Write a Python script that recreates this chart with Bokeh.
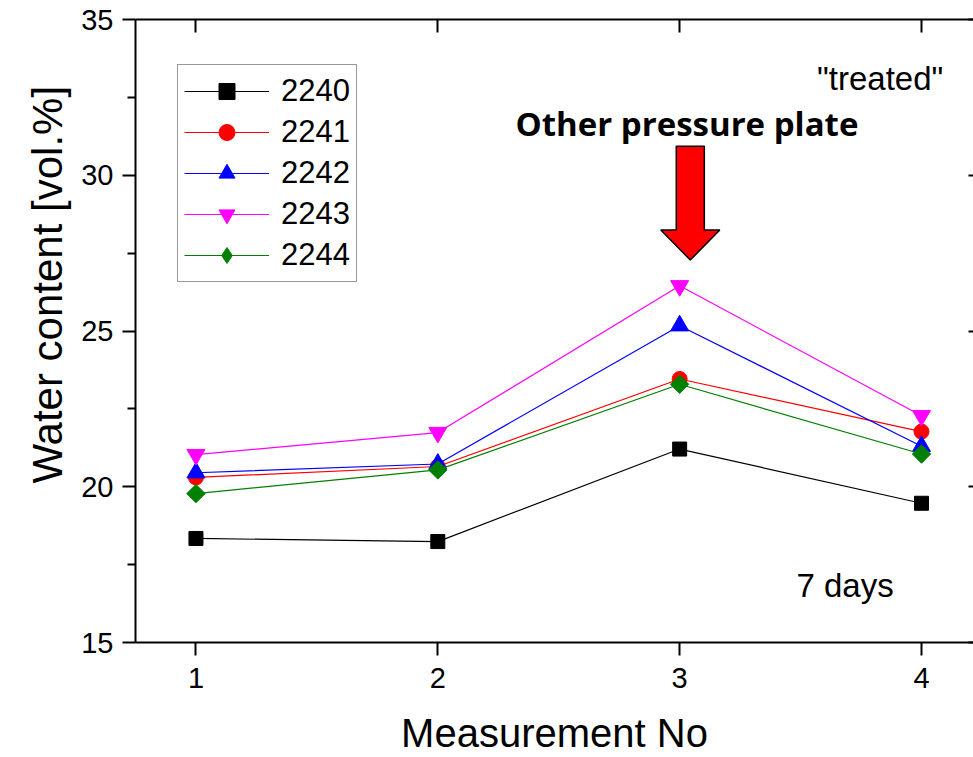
import numpy as np
from bokeh.plotting import figure
from bokeh.models import FixedTicker, LinearAxis, Label, Legend, LegendItem, Title
from bokeh.embed import file_html
from bokeh.resources import INLINE

# ---- data ----
measurement = [1, 2, 3, 4]
s2240 = [18.34, 18.24, 21.21, 19.47]
s2241 = [20.30, 20.65, 23.46, 21.77]
s2242 = [20.45, 20.73, 25.17, 21.30]
s2243 = [21.03, 21.74, 26.45, 22.28]
s2244 = [19.78, 20.54, 23.29, 21.05]
series_names = ["2240", "2241", "2242", "2243", "2244"]
series_values = [s2240, s2241, s2242, s2243, s2244]
x_ticks = [1, 2, 3, 4]
y_ticks = [15, 20, 25, 30, 35]
y_minor = [17.5, 22.5, 27.5, 32.5]

colors = ["#000000", "#FF0000", "#0000FF", "#FF00FF", "#008000"]
markers = ["square", "circle", "triangle", "inverted_triangle", "square"]
legend_markers = ["square", "circle", "triangle", "inverted_triangle", "diamond"]
sizes = [14, 15, 18, 18, 13]
angles = [0, 0, 0, 0, np.pi / 4]

FONT = "Liberation Sans"

p = figure(width=973, height=757, x_range=(0.75, 4.215), y_range=(15, 35),
           output_backend="svg", toolbar_location=None,
           min_border_left=135, min_border_right=0, min_border_top=19, min_border_bottom=115)
p.outline_line_color = None
p.xgrid.visible = False
p.ygrid.visible = False
p.background_fill_color = "white"
p.border_fill_color = "white"

# left axis
ya = p.yaxis[0]
ya.ticker = FixedTicker(ticks=y_ticks, minor_ticks=y_minor)
ya.major_label_text_font = FONT
ya.major_label_text_font_size = "29px"
ya.major_label_text_color = "black"
ya.major_label_standoff = 9
ya.major_tick_out = 13
ya.major_tick_in = 0
ya.minor_tick_out = 8
ya.minor_tick_in = 0
ya.axis_line_width = 2
ya.major_tick_line_width = 2
ya.minor_tick_line_width = 2

# y axis title (off-centre towards the top, as in the reference)
ytitle = Title(text="Water content [vol.%]", align="left", offset=159,
               text_font=FONT, text_font_style="normal", text_font_size="42px",
               text_color="black", standoff=16)
p.add_layout(ytitle, "left")

# bottom axis
xa = p.xaxis[0]
xa.ticker = FixedTicker(ticks=x_ticks, minor_ticks=[])
xa.axis_label = "Measurement No"
xa.axis_label_text_font = FONT
xa.axis_label_text_font_style = "normal"
xa.axis_label_text_font_size = "40px"
xa.axis_label_text_color = "black"
xa.axis_label_standoff = 20
xa.major_label_text_font = FONT
xa.major_label_text_font_size = "29px"
xa.major_label_text_color = "black"
xa.major_label_standoff = 12
xa.major_tick_out = 13
xa.major_tick_in = 0
xa.axis_line_width = 2
xa.major_tick_line_width = 2
xa.minor_tick_line_color = None

# top axis (frame with inward ticks)
ta = LinearAxis(ticker=FixedTicker(ticks=x_ticks, minor_ticks=[]))
ta.major_label_text_font_size = "1px"
ta.major_label_text_color = None
ta.major_label_standoff = 0
ta.major_tick_out = 0
ta.major_tick_in = 13
ta.axis_line_width = 2
ta.major_tick_line_width = 2
ta.minor_tick_line_color = None
p.add_layout(ta, "above")

# right axis (cropped at the edge: only inward tick stubs visible)
ra = LinearAxis(ticker=FixedTicker(ticks=y_ticks, minor_ticks=[]))
ra.major_label_text_font_size = "1px"
ra.major_label_text_color = None
ra.major_label_standoff = 0
ra.major_tick_out = 0
ra.major_tick_in = 5
ra.axis_line_color = None
ra.major_tick_line_width = 2
ra.minor_tick_line_color = None
p.add_layout(ra, "right")

items = []
for name, vals, c, m, lm, s, a in zip(series_names, series_values, colors, markers,
                                       legend_markers, sizes, angles):
    r1 = p.line(measurement, vals, line_color=c, line_width=1.2)
    rends = [r1]
    if lm != m:
        # legend-shaped marker, fully hidden under the rotated square below
        r3 = p.scatter(measurement, vals, marker=lm, size=16, fill_color=c, line_color=c)
        rends.append(r3)
    r2 = p.scatter(measurement, vals, marker=m, size=s, angle=a,
                   fill_color=c, line_color=c)
    if lm == m:
        rends.append(r2)
    items.append(LegendItem(label=name, renderers=rends))

legend = Legend(items=items, location=(42, 360))
legend.label_text_font = FONT
legend.label_text_font_size = "31px"
legend.label_text_color = "black"
legend.glyph_width = 85
legend.glyph_height = 40
legend.label_height = 40
legend.label_standoff = 12
legend.spacing = 1
legend.padding = 6
legend.border_line_color = "#333333"
legend.border_line_width = 1.5
legend.background_fill_color = "white"
legend.background_fill_alpha = 1
legend.margin = 0
p.add_layout(legend, "center")

# annotations
p.add_layout(Label(x=4.09, y=33.1, text='"treated"', text_align="right",
                   text_baseline="middle", text_font=FONT, text_font_size="33px",
                   text_color="black"))
p.add_layout(Label(x=3.483, y=16.83, text="7 days", text_align="left",
                   text_baseline="middle", text_font=FONT, text_font_size="33px",
                   text_color="black"))
p.add_layout(Label(x=3.03, y=31.65, text="Other pressure plate", text_align="center",
                   text_baseline="middle", text_font="Open Sans", text_font_style="bold",
                   text_font_size="33px", text_color="black"))

# block arrow pointing down at measurement 3
arrow_x = 3.044
arrow_top = 30.93
arrow_head_base = 28.24
arrow_tip = 27.28
shaft_hw = 0.058
head_hw = 0.122
ax = [arrow_x - shaft_hw, arrow_x + shaft_hw, arrow_x + shaft_hw, arrow_x + head_hw,
      arrow_x, arrow_x - head_hw, arrow_x - shaft_hw]
ay = [arrow_top, arrow_top, arrow_head_base, arrow_head_base, arrow_tip,
      arrow_head_base, arrow_head_base]
p.patch(ax, ay, fill_color="#FF0000", line_color="black", line_width=1.5)

open("out.html", "w").write(file_html(p, INLINE))
